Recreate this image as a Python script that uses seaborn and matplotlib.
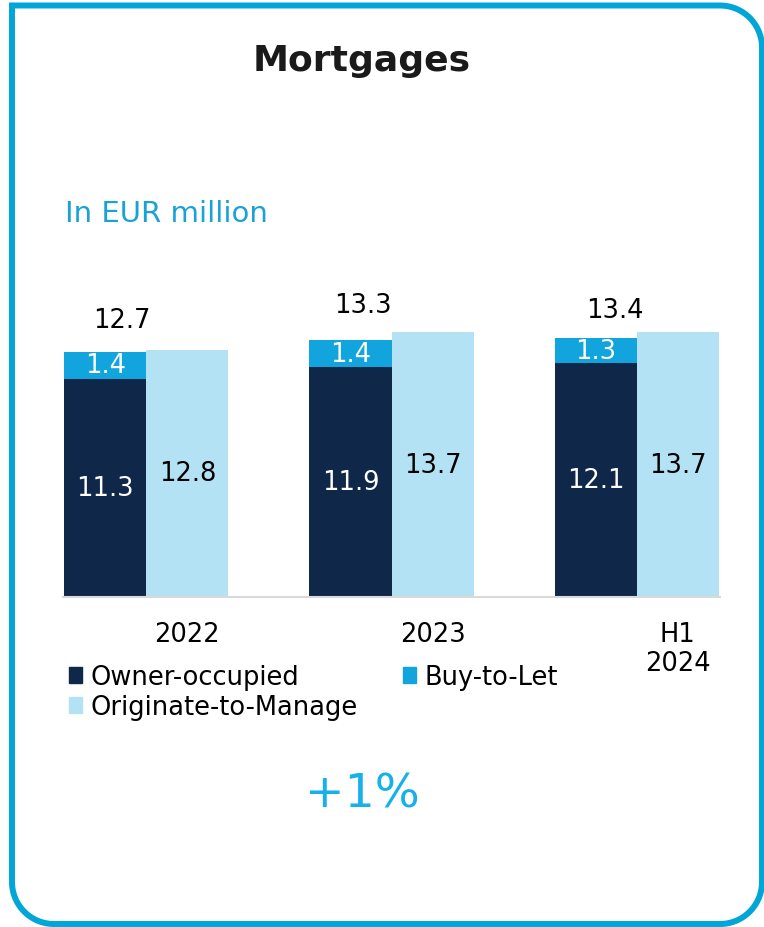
import numpy as np
import pandas as pd
import matplotlib
matplotlib.use("Agg")
import matplotlib.pyplot as plt
import seaborn as sns
from matplotlib.patches import Patch, Polygon

# ---------------- data ----------------
years = ["2022", "2023", "H1\n2024"]
owner_occupied = [11.3, 11.9, 12.1]
buy_to_let = [1.4, 1.4, 1.3]
stack_totals = [12.7, 13.3, 13.4]
originate_to_manage = [12.8, 13.7, 13.7]
series_names = ["Owner-occupied", "Buy-to-Let", "Originate-to-Manage"]
title_text = "Mortgages"
subtitle_text = "In EUR million"
growth_text = "+1%"

# ---------------- style ----------------
DARK = "#0f2749"
MID = "#12a4dd"
LIGHT = "#b3e2f4"
BORDER = "#00a6d8"
SUB_BLUE = "#1aa2d6"
GROWTH_BLUE = "#14b1ea"
FS = 18.5
BAR_W = 0.67

sns.set_theme(style="white")
plt.rcParams["font.family"] = ["DejaVu Sans"]

W, H = 764, 928
fig = plt.figure(figsize=(W / 100, H / 100), dpi=100)

# border overlay
bax = fig.add_axes([0, 0, 1, 1], zorder=0)
bax.set_xlim(0, W)
bax.set_ylim(H, 0)
bax.axis("off")
L, T, Rr, B, R = 12, 6.5, 762, 925, 42
def arc(cx, cy, a0, a1, n=30):
    a = np.linspace(np.radians(a0), np.radians(a1), n)
    return np.c_[cx + R * np.cos(a), cy + R * np.sin(a)]
pts = np.vstack([
    [[L, T]],
    [[Rr - R, T]],
    arc(Rr - R, T + R, -90, 0),
    [[Rr, B - R]],
    arc(Rr - R, B - R, 0, 90),
    [[L + R, B]],
    arc(L + R, B - R, 90, 180),
])
bax.add_patch(Polygon(pts, closed=True, fill=False, edgecolor=BORDER,
                      linewidth=4.3, joinstyle="miter"))

# chart axes
ax = fig.add_axes([63 / W, 1 - 598 / H, 657 / W, 309 / H], zorder=1)
ax.patch.set_alpha(0)

back = pd.DataFrame({
    "year": years * 2,
    "series": ["stack"] * 3 + ["otm"] * 3,
    "value": list(np.add(owner_occupied, buy_to_let)) + originate_to_manage,
})
front = pd.DataFrame({
    "year": years * 2,
    "series": ["stack"] * 3 + ["otm"] * 3,
    "value": owner_occupied + [0, 0, 0],
})
common = dict(x="year", y="value", hue="series", order=years,
              hue_order=["stack", "otm"], width=BAR_W, gap=0, dodge=True,
              errorbar=None, saturation=1, linewidth=0, legend=False, ax=ax)
sns.barplot(data=back, palette={"stack": MID, "otm": LIGHT}, **common)
sns.barplot(data=front, palette={"stack": DARK, "otm": DARK}, **common)

off = BAR_W / 4
total_dx_pt = [12, 9, 14]
total_dy_pt = [23, 25, 20]
for i in range(len(years)):
    xl, xr = i - off, i + off
    ax.text(xl, owner_occupied[i] / 2, f"{owner_occupied[i]:.1f}", ha="center",
            va="center", color="white", fontsize=FS)
    ax.text(xl, owner_occupied[i] + buy_to_let[i] / 2, f"{buy_to_let[i]:.1f}",
            ha="center", va="center", color="white", fontsize=FS)
    ax.text(xr, originate_to_manage[i] / 2, f"{originate_to_manage[i]:.1f}",
            ha="center", va="center", color="black", fontsize=FS)
    ax.annotate(f"{stack_totals[i]:.1f}", (xl, owner_occupied[i] + buy_to_let[i]),
                xytext=(total_dx_pt[i], total_dy_pt[i]), textcoords="offset points",
                ha="center", va="center", color="black", fontsize=FS)

ax.set_xlim(-BAR_W / 2 - 0.005, len(years) - 1 + BAR_W / 2 + 0.005)
ax.set_ylim(0, 16)
ax.set_xticks([i + off for i in range(len(years))])
ax.set_xticklabels(years, fontsize=FS, color="black", linespacing=1.15)
ax.tick_params(axis="x", length=0, pad=17)
ax.set_yticks([])
ax.set_xlabel("")
ax.set_ylabel("")
for s in ["left", "top", "right"]:
    ax.spines[s].set_visible(False)
ax.spines["bottom"].set_color("#d9d9d9")
ax.spines["bottom"].set_linewidth(1.5)

# texts
fig.text(362 / W, 1 - 71 / H, title_text, ha="center", va="baseline",
         fontsize=26, fontweight="bold", color="#1a1a1a")
fig.text(65 / W, 1 - 222 / H, subtitle_text, ha="left", va="baseline",
         fontsize=21, color=SUB_BLUE)
fig.text(362 / W, 1 - 808 / H, growth_text, ha="center", va="baseline",
         fontsize=34, color=GROWTH_BLUE)

handles = [Patch(color=DARK, label=series_names[0]),
           Patch(color=LIGHT, label=series_names[2]),
           Patch(color=MID, label=series_names[1])]
fig.legend(handles=handles, ncol=2, loc="upper left",
           bbox_to_anchor=(69 / W, 1 - 665 / H), frameon=False, fontsize=FS,
           labelcolor="black",
           handlelength=0.5, handleheight=0.6, handletextpad=0.35,
           columnspacing=1.75, labelspacing=0.15, borderaxespad=0, borderpad=0)

fig.savefig("out.png", dpi=100)
